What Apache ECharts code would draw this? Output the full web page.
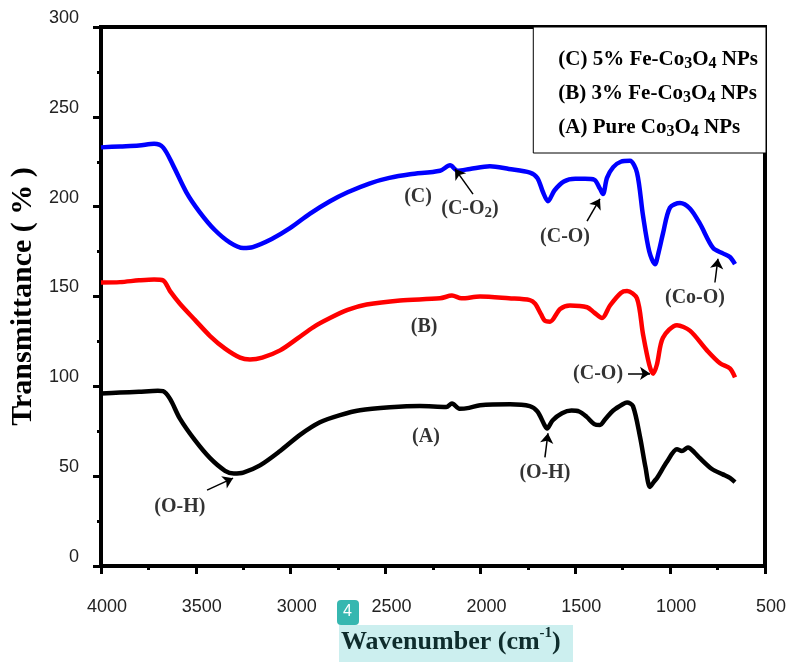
<!DOCTYPE html>
<html>
<head>
<meta charset="utf-8">
<script src="https://cdn.jsdelivr.net/npm/echarts@6/dist/echarts.min.js"></script>
<style>
  html, body { margin: 0; padding: 0; background: #fff; }
  #chart { width: 791px; height: 662px; }
</style>
</head>
<body>
<div id="chart"></div>
<script>
// FTIR spectra, [wavenumber, transmittance]
const curveC = [[4000,233],[3900,233.5],[3800,234],[3720,235],[3673,233],[3620,223],[3550,208],[3480,197],[3400,187],[3320,180],[3250,177],[3200,177.5],[3100,182],[3004,188],[2900,196],[2793,203],[2700,208],[2582,213],[2480,216],[2371,218],[2213,220],[2160,223],[2120,220],[2055,221],[1950,222.5],[1850,221],[1739,219],[1700,216],[1670,208],[1644,203],[1610,209],[1560,214],[1500,215.5],[1449,215.5],[1400,215],[1370,210],[1354,207],[1333,216],[1300,222],[1260,225],[1212,225.5],[1175,219],[1143,195],[1110,175],[1080,168],[1060,175],[1038,185],[1001,199.5],[948,202],[896,199],[843,190.5],[774,177],[722,174],[685,172],[658,168]];
const curveB = [[4000,157.8],[3900,158],[3800,159],[3720,159.5],[3673,159],[3636,153],[3584,146],[3505,137],[3425,128],[3346,121],[3267,116],[3215,115],[3150,116],[3056,120],[2960,127],[2880,133],[2793,138],[2700,142.5],[2600,145.5],[2424,147.8],[2213,149],[2150,150.5],[2100,149],[2002,150],[1850,149],[1739,148],[1712,146],[1680,140],[1660,136.5],[1633,136],[1580,143],[1528,145],[1438,144],[1400,141],[1359,138],[1317,145],[1260,152],[1227,153],[1175,149],[1143,129],[1110,112],[1090,107],[1070,112],[1038,127],[964,134],[896,131],[806,120],[737,112.8],[685,110],[658,105]];
const curveA = [[4000,96],[3900,96.5],[3800,97],[3700,97.5],[3673,97.3],[3636,93],[3584,82],[3505,70],[3425,60],[3346,53],[3300,51.5],[3250,52],[3162,56],[3056,64],[2951,73],[2846,80],[2740,84],[2635,86.7],[2477,88.3],[2319,89],[2180,88.5],[2150,90.5],[2110,87.5],[2060,88],[2002,89.5],[1844,90],[1740,89],[1700,86],[1660,78],[1649,76.5],[1620,81],[1570,85],[1520,86.5],[1480,86],[1440,83],[1400,79],[1370,78.5],[1340,82],[1300,86.5],[1250,90],[1227,91],[1196,89],[1159,72],[1130,55],[1106,44],[1085,47],[1069,49],[1017,58],[964,65],[938,64],[906,66],[870,63],[843,60],[780,54],[722,51],[685,49],[658,46.7]];

const seriesNames = ['C', 'B', 'A'];
const seriesColors = ['#0000ff', '#ff0000', '#000000'];
const legendLabels = [
  '(C) 5% Fe-Co{s|3}O{s|4} NPs',
  '(B) 3% Fe-Co{s|3}O{s|4} NPs',
  '(A) Pure Co{s|3}O{s|4} NPs'
];

// peak labels and arrows (data coordinates)
const noteTexts = ['(C)', '(C-O{s|2})', '(C-O)', '(Co-O)', '(B)', '(C-O)', '(A)', '(O-H)', '(O-H)'];
const notePos = [[2329,205.6],[2055,199],[1554,183],[869,149.4],[2297,133],[1380,106.7],[2287,71.7],[1660,52],[3584,32.8]];
const arrowFrom = [[2039,207],[1438,192],[764,157.8],[1222,107.2],[1660,60.5],[3441,42.2]];
const arrowTo = [[2134,221],[1370,204.4],[748,171],[1106,107.2],[1644,73.9],[3304,48.9]];

const serif = '"Liberation Serif", "Times New Roman", serif';
const sans = '"Liberation Sans", Arial, Helvetica, sans-serif';

const chart = echarts.init(document.getElementById('chart'));

const lineSeries = [curveC, curveB, curveA].map((d, i) => ({
  name: seriesNames[i],
  type: 'line',
  data: d,
  showSymbol: false,
  smooth: 0.3,
  lineStyle: { color: seriesColors[i], width: 4.5 },
  itemStyle: { color: seriesColors[i] }
}));

// arrows go on the black curve's series
lineSeries[2].markLine = {
  silent: true,
  animation: false,
  symbol: ['none', 'arrow'],
  symbolSize: 10,
  lineStyle: { color: '#000', width: 1.5, type: 'solid' },
  label: { show: false },
  emphasis: { disabled: true },
  data: arrowFrom.map((p, i) => [
    { coord: p, symbol: 'none' },
    { coord: arrowTo[i], symbol: 'arrow', symbolSize: 10 }
  ])
};

const option = {
  animation: false,
  backgroundColor: '#fff',
  grid: { left: 101, right: 26, top: 27, bottom: 96, show: true, borderColor: '#000', borderWidth: 4 },
  legend: {
    data: seriesNames,
    orient: 'vertical',
    right: 25,
    top: 27,
    icon: 'none',
    itemWidth: 0,
    itemGap: 10,
    padding: [21, 8, 13, 20],
    backgroundColor: '#fff',
    borderColor: '#000',
    borderWidth: 1,
    selectedMode: false,
    formatter: name => legendLabels[seriesNames.indexOf(name)],
    textStyle: {
      fontFamily: serif, fontWeight: 'bold', fontSize: 21, color: '#000', lineHeight: 24,
      rich: { s: { fontSize: 16, fontWeight: 'bold', fontFamily: serif, color: '#000', verticalAlign: 'bottom', padding: [10, 0, 0, 0] } }
    }
  },
  xAxis: {
    type: 'value',
    inverse: true,
    min: 500,
    max: 4000,
    interval: 500,
    axisLine: { lineStyle: { color: '#000', width: 4 } },
    axisTick: { inside: false, length: 8, lineStyle: { width: 3, color: '#000' } },
    minorTick: { show: true, splitNumber: 2, length: 4, lineStyle: { width: 3, color: '#000' } },
    splitLine: { show: false },
    axisLabel: { margin: 32, fontFamily: sans, fontSize: 18, color: '#222', padding: [0, 0, 0, 12], formatter: v => String(v) }
  },
  yAxis: {
    type: 'value',
    min: 0,
    max: 300,
    interval: 50,
    name: 'Transmittance ( % )',
    nameLocation: 'middle',
    nameGap: 62,
    nameTextStyle: { fontFamily: serif, fontWeight: 'bold', fontSize: 30, color: '#000' },
    axisLine: { lineStyle: { color: '#000', width: 4 } },
    axisTick: { inside: false, length: 8, lineStyle: { width: 3, color: '#000' } },
    minorTick: { show: true, splitNumber: 2, length: 4, lineStyle: { width: 3, color: '#000' } },
    splitLine: { show: false },
    axisLabel: { margin: 22, fontFamily: sans, fontSize: 18, color: '#222', verticalAlign: 'bottom', formatter: v => String(v) }
  },
  graphic: [
    { type: 'rect', left: 339, top: 625, shape: { width: 234, height: 37 }, style: { fill: '#ccefef' }, z: 10 },
    {
      type: 'text', left: 341, top: 626, z: 11,
      style: {
        text: 'Wavenumber (cm{sup|-1})',
        fontFamily: serif, fontWeight: 'bold', fontSize: 26, fill: '#0e2c2c', lineHeight: 32,
        rich: { sup: { fontFamily: serif, fontWeight: 'bold', fontSize: 15, fill: '#0e2c2c', verticalAlign: 'top', padding: [0, 0, 10, 0] } }
      }
    },
    { type: 'rect', left: 337, top: 600, shape: { width: 22, height: 25, r: 4 }, style: { fill: '#36b7b0' }, z: 12 },
    { type: 'text', left: 343, top: 604, z: 13, style: { text: '4', fontFamily: sans, fontSize: 16, fill: '#fff' } }
  ],
  series: lineSeries.concat([{
    name: 'notes',
    type: 'scatter',
    symbolSize: 0,
    silent: true,
    data: notePos.map((p, i) => ({ value: p, label: { formatter: noteTexts[i] } })),
    label: {
      show: true,
      position: 'inside',
      fontFamily: serif, fontWeight: 'bold', fontSize: 20, color: '#000', lineHeight: 24,
      rich: { s: { fontSize: 15, fontWeight: 'bold', fontFamily: serif, color: '#000', verticalAlign: 'bottom', padding: [10, 0, 0, 0] } }
    }
  }])
};

chart.setOption(option);
</script>
</body>
</html>
